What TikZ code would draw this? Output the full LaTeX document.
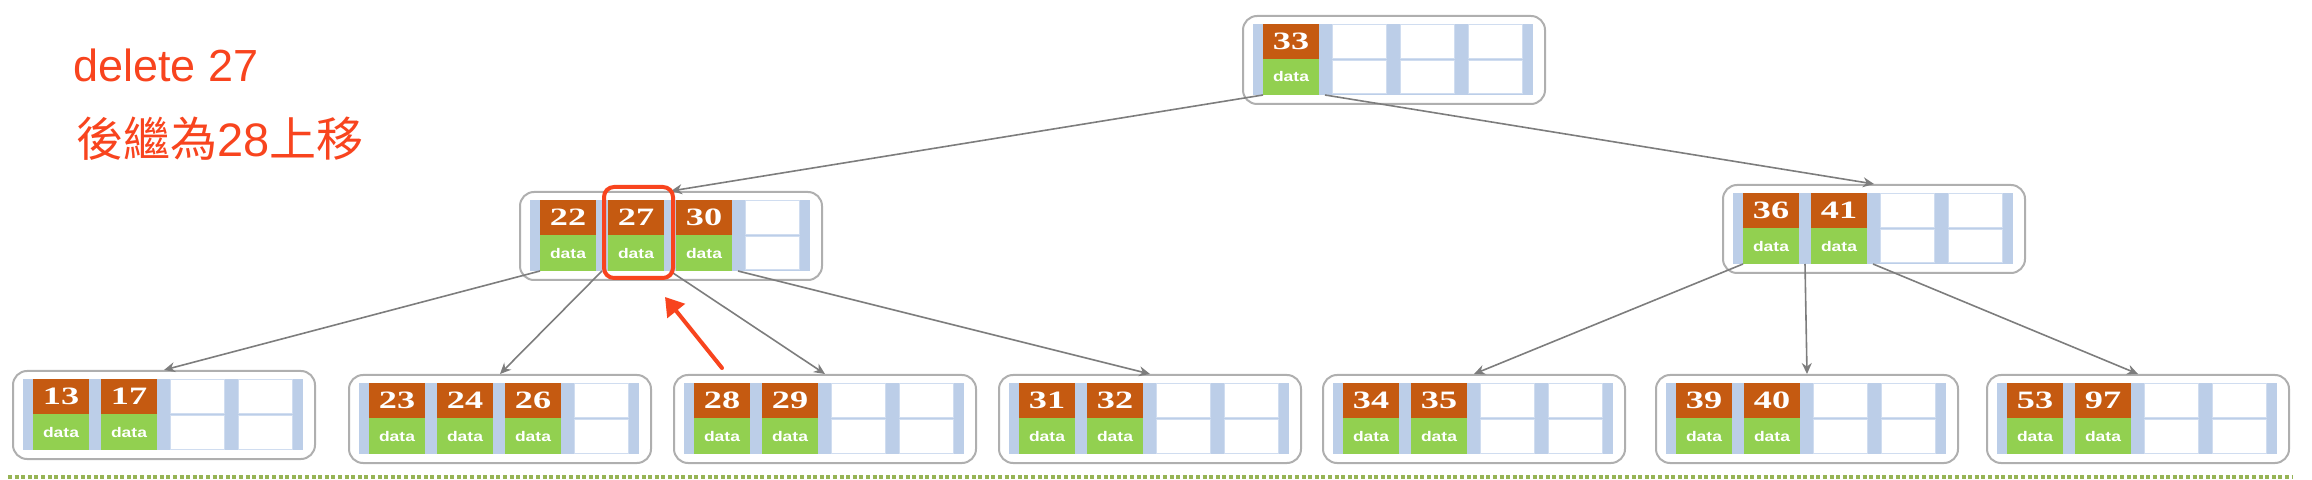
\documentclass[tikz,border=0pt]{standalone}
\usepackage{fontspec}
\setmainfont{Liberation Sans}
\newfontfamily\cjk{Noto Sans CJK TC}
\newfontfamily\keyfont{Liberation Serif}[FakeStretch=1.45]
\newfontfamily\datafont{Liberation Sans}[FakeStretch=1.25]
\usetikzlibrary{arrows.meta}
\definecolor{keyorange}{RGB}{197,90,17}
\definecolor{datagreen}{RGB}{146,208,80}
\definecolor{stripblue}{RGB}{188,206,232}
\definecolor{cellline}{RGB}{208,221,240}
\definecolor{nodegray}{RGB}{175,175,175}
\definecolor{edgegray}{RGB}{125,125,125}
\definecolor{hlred}{RGB}{248,68,30}
\definecolor{dotgreen}{RGB}{150,180,85}

\newcommand{\btreenode}[4]{%
  \node[bbox, anchor=north west] (#1) at (#2,#3) {};
  \fill[stripblue] (#2+11,#3+9) rectangle (#2+291,#3+80);
  \foreach \i in {0,...,3}{
    \filldraw[emptycell] (#2+22+68*\i,#3+10) rectangle (#2+76+68*\i,#3+43.5);
    \filldraw[emptycell] (#2+22+68*\i,#3+45.5) rectangle (#2+76+68*\i,#3+79);
  }
  \foreach \k [count=\j from 0] in {#4}{
    \node[keycell] (#1-k\j) at (#2+49+68*\j,#3+26.5) {\k};
    \node[datacell] (#1-d\j) at (#2+49+68*\j,#3+62) {data};
  }
  \coordinate (#1-p0) at (#2+21,#3+80);
  \coordinate (#1-p1) at (#2+83,#3+80);
  \coordinate (#1-p2) at (#2+151,#3+80);
  \coordinate (#1-p3) at (#2+219,#3+80);
}

\begin{document}
\begin{tikzpicture}[x=0.5pt,y=-0.5pt,
  bbox/.style={draw=nodegray, fill=white, line width=1pt, rounded corners=7pt,
    minimum width=151pt, minimum height=44pt, inner sep=0pt},
  emptycell/.style={fill=white, draw=cellline, line width=0.5pt},
  keycell/.style={fill=keyorange, text=white, inner sep=0pt,
    minimum width=28pt, minimum height=17.5pt,
    font=\keyfont\bfseries\fontsize{12.5}{14}\selectfont},
  datacell/.style={fill=datagreen, text=white, inner sep=0pt,
    minimum width=28pt, minimum height=18pt,
    font=\datafont\bfseries\fontsize{7}{8}\selectfont},
  edge/.style={draw=edgegray, line width=0.8pt, -{Stealth[length=5.5pt,width=5pt]}},
  hlbox/.style={draw=hlred, line width=2pt, rounded corners=5pt,
    minimum width=34.5pt, minimum height=45.5pt, inner sep=0pt},
  redarrow/.style={draw=hlred, line width=2pt, line cap=round,
    -{Triangle[length=9pt,width=11pt]}},
  redtext/.style={text=hlred, inner sep=0pt},
  dotline/.style={draw=dotgreen, line width=2pt, dash pattern=on 2pt off 1.3pt}
]
\useasboundingbox (0,0) rectangle (2312,480);

\btreenode{root}{1242}{15}{33}
\btreenode{midL}{519}{191}{22,27,30}
\btreenode{midR}{1722}{184}{36,41}
\btreenode{b1}{12}{370}{13,17}
\btreenode{b2}{348}{374}{23,24,26}
\btreenode{b3}{673}{374}{28,29}
\btreenode{b4}{998}{374}{31,32}
\btreenode{b5}{1322}{374}{34,35}
\btreenode{b6}{1655}{374}{39,40}
\btreenode{b7}{1986}{374}{53,97}

\draw[edge] (root-p0) -- (midL.north);
\draw[edge] (root-p1) -- (midR.north);
\draw[edge] (midL-p0) -- (b1.north);
\draw[edge] (midL-p1) -- (b2.north);
\draw[edge] (midL-p2) -- (b3.north);
\draw[edge] (midL-p3) -- (b4.north);
\draw[edge] (midR-p0) -- (b5.north);
\draw[edge] (midR-p1) -- (b6.north);
\draw[edge] (midR-p2) -- (b7.north);

\node[hlbox] (hl) at (638.5,232.5) {};
\coordinate (rtail) at (722,368);
\coordinate (rtip) at (665,297);
\draw[redarrow] (rtail) -- (rtip);

\node[redtext, anchor=base west, font=\fontsize{22.5}{27}\selectfont] (t1) at (73,82) {delete 27};
\node[redtext, anchor=base west, font=\fontsize{23.5}{28}\selectfont] (t2) at (76,157) {{\cjk 後繼為}28{\cjk 上移}};

\coordinate (dl) at (8,477);
\coordinate (dr) at (2292,477);
\draw[dotline] (dl) -- (dr);
\end{tikzpicture}
\end{document}
